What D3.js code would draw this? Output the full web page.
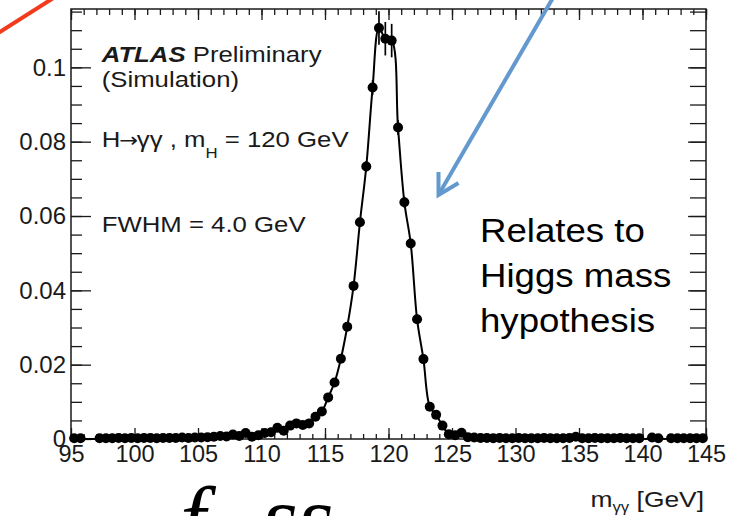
<!DOCTYPE html>
<html>
<head>
<meta charset="utf-8">
<script src="https://cdn.jsdelivr.net/npm/d3@7"></script>
<style>
  body { margin: 0; background: #fff; }
  svg { display: block; font-family: "Liberation Sans", Arial, Helvetica, sans-serif; }
</style>
</head>
<body>
<script>
var width = 737, height = 516;

// m_yy histogram, 0.5 GeV bins from 95 to 145 (null = empty bin)
var binLo = 95, binWidth = 0.5;
var binValues = [
  0.0002, 0.0002, null, null, 0.0002, 0.0002, 0.0002, 0.0003, 0.0002, 0.0003,   // 95 - 100
  0.0002, 0.0003, 0.0003, 0.0002, 0.0003, 0.0003, 0.0003, 0.0004, 0.0003, 0.0004, // 100 - 105
  0.0004, 0.0005, 0.0006, 0.0008, 0.0007, 0.0012, 0.0008, 0.0016, 0.0006, 0.0010, // 105 - 110
  0.0016, 0.0018, 0.0030, 0.0022, 0.0036, 0.0042, 0.0038, 0.0042, 0.0060, 0.0074, // 110 - 115
  0.0112, 0.0152, 0.0216, 0.0302, 0.0412, 0.0583, 0.0733, 0.0946, 0.1106, 0.1077, // 115 - 120
  0.1072, 0.0838, 0.0637, 0.0526, 0.0322, 0.0215, 0.0087, 0.0065, 0.0036, 0.0013, // 120 - 125
  0.0010, 0.0017, 0.0005, 0.0004, 0.0003, 0.0003, 0.0002, 0.0003, 0.0002, 0.0002, // 125 - 130
  0.0003, 0.0002, 0.0002, 0.0002, 0.0003, 0.0002, 0.0002, 0.0002, 0.0003, 0.0006, // 130 - 135
  0.0002, 0.0002, 0.0003, 0.0002, 0.0002, 0.0002, 0.0003, 0.0002, 0.0002, 0.0002, // 135 - 140
  null, 0.0004, 0.0002, null, 0.0002, 0.0002, 0.0002, 0.0002, 0.0002, 0.0002      // 140 - 145
];
// statistical errors that stick out of the markers (bin centre, error)
var binErrors = [
  [118.25, 0.0015], [118.75, 0.002], [119.25, 0.0045], [119.75, 0.0045],
  [120.25, 0.0045], [120.75, 0.002], [121.25, 0.0015]
];

var xDomain = [95, 145];
var yDomain = [0, 0.1157];
var xMajor = d3.range(95, 146, 5);
var xMinor = d3.range(95, 146, 1);
var yMajor = [0, 0.02, 0.04, 0.06, 0.08, 0.1];
var yMinor = d3.range(0, 0.1151, 0.005);

var legendLines = ["(Simulation)", "FWHM = 4.0 GeV"];
var noteLines = ["Relates to", "Higgs mass", "hypothesis"];

var points = binValues.map(function(v, i){
  return {m: binLo + binWidth*(i + 0.5), v: v};
});

var svg = d3.select("body").append("svg")
  .attr("width", width)
  .attr("height", height);

var x = d3.scaleLinear().domain(xDomain).range([71, 706]);
var y = d3.scaleLinear().domain(yDomain).range([439, 9]);

var ink = "#1a1a1a";

// ticks, pointing in from all four sides
function tickSet(axis, transform, size, values){
  var g = svg.append("g")
    .attr("transform", transform)
    .call(axis.tickValues(values).tickSizeInner(size).tickSizeOuter(0).tickFormat(""));
  g.select(".domain").remove();
  g.selectAll("line").attr("stroke", ink).attr("stroke-width", 1.3);
  return g;
}
tickSet(d3.axisBottom(x), "translate(0,439)", -5, xMinor);
tickSet(d3.axisBottom(x), "translate(0,439)", -11, xMajor);
tickSet(d3.axisTop(x), "translate(0,9)", -6, xMinor);
tickSet(d3.axisTop(x), "translate(0,9)", -11, xMajor);
tickSet(d3.axisLeft(y), "translate(71,0)", -11, yMinor);
tickSet(d3.axisLeft(y), "translate(71,0)", -20, yMajor);
tickSet(d3.axisRight(y), "translate(706,0)", -16, yMinor);
tickSet(d3.axisRight(y), "translate(706,0)", -18, yMajor);

// tick labels
var xLab = svg.append("g")
  .attr("transform", "translate(0,439)")
  .call(d3.axisBottom(x).tickValues(xMajor).tickSize(0).tickPadding(6).tickFormat(d3.format("d")));
xLab.select(".domain").remove();
xLab.selectAll("text").attr("font-size", 23.5).attr("font-family", null).attr("fill", ink);

var yLab = svg.append("g")
  .attr("transform", "translate(71,0)")
  .call(d3.axisLeft(y).tickValues(yMajor).tickSize(0).tickPadding(5).tickFormat(d3.format("~g")));
yLab.select(".domain").remove();
yLab.selectAll("text").attr("font-size", 24).attr("font-family", null).attr("fill", ink);

// frame
svg.append("rect")
  .attr("x", x(95)).attr("y", y(yDomain[1]))
  .attr("width", x(145) - x(95)).attr("height", y(0) - y(yDomain[1]))
  .attr("fill", "none").attr("stroke", ink).attr("stroke-width", 1.5);

// fitted shape through the bins
var fit = d3.line()
  .x(function(d){ return x(d.m); })
  .y(function(d){ return y(d.v || 0); })
  .curve(d3.curveCatmullRom.alpha(0.5));
svg.append("path")
  .datum(points)
  .attr("d", fit)
  .attr("fill", "none")
  .attr("stroke", "#000")
  .attr("stroke-width", 2);

// error bars
svg.append("g").selectAll("line")
  .data(binErrors)
  .enter().append("line")
  .attr("x1", function(d){ return x(d[0]); })
  .attr("x2", function(d){ return x(d[0]); })
  .attr("y1", function(d){ return y(points[(d[0] - binLo - binWidth/2)/binWidth].v + d[1]); })
  .attr("y2", function(d){ return y(points[(d[0] - binLo - binWidth/2)/binWidth].v - d[1]); })
  .attr("stroke", "#000").attr("stroke-width", 1.7);

// markers
svg.append("g").selectAll("circle")
  .data(points.filter(function(d){ return d.v != null; }))
  .enter().append("circle")
  .attr("cx", function(d){ return x(d.m); })
  .attr("cy", function(d){ return y(d.v); })
  .attr("r", 5)
  .attr("fill", "#000");

// legend block (text slightly stretched like the slide)
var leg = svg.append("g").attr("transform", "translate(101.7,0) scale(1.12,1)").attr("fill", ink).attr("font-size", 23);
var l1 = leg.append("text").attr("y", 61.7);
l1.append("tspan").attr("font-weight", "bold").attr("font-style", "italic").text("ATLAS");
l1.append("tspan").text(" Preliminary");
leg.append("text").attr("y", 87.5).text(legendLines[0]);
var l3 = leg.append("text").attr("y", 146.7);
l3.append("tspan").text("H");
l3.append("tspan").attr("font-family", "'DejaVu Sans', sans-serif").attr("font-size", 20).attr("dx", -1).text("\u2192");
l3.append("tspan").attr("dx", -1).text("\u03b3\u03b3 , m");
l3.append("tspan").attr("font-size", 15).attr("dy", 11).text("H");
l3.append("tspan").attr("dy", -11).text(" = 120 GeV");
leg.append("text").attr("y", 232.3).text(legendLines[1]);

// axis title
var xt = svg.append("g").attr("transform", "translate(704,507) scale(1.2,1)");
var xtText = xt.append("text").attr("text-anchor", "end").attr("font-size", 22).attr("fill", ink);
xtText.append("tspan").text("m");
xtText.append("tspan").attr("font-size", 14).attr("dy", 5).text("\u03b3\u03b3");
xtText.append("tspan").attr("dy", -5).text(" [GeV]");

// annotation
var note = svg.append("g").attr("transform", "translate(480,0) scale(1.11,1)");
note.selectAll("text")
  .data(noteLines)
  .enter().append("text")
  .attr("y", function(d, i){ return 242 + i*45; })
  .attr("font-size", 33)
  .attr("fill", "#000")
  .text(function(d){ return d; });

// slide decorations: red stroke and blue arrow
svg.append("line")
  .attr("x1", -5).attr("y1", 35).attr("x2", 55).attr("y2", -3)
  .attr("stroke", "#f23b1d").attr("stroke-width", 4);

var blue = "#6399cf";
svg.append("line")
  .attr("x1", 554).attr("y1", -4).attr("x2", 439).attr("y2", 194)
  .attr("stroke", blue).attr("stroke-width", 4);
svg.append("path")
  .attr("d", "M438.5,172 L438.5,195 L458.5,183")
  .attr("fill", "none").attr("stroke", blue).attr("stroke-width", 4)
  .attr("stroke-linejoin", "miter");

// formula cut off at the bottom edge of the slide
svg.append("text")
  .attr("x", 180).attr("y", 550)
  .attr("font-family", "'Liberation Serif', serif")
  .attr("font-style", "italic")
  .attr("font-size", 92)
  .attr("fill", "#000")
  .text("f");
svg.append("text")
  .attr("x", 262).attr("y", 548)
  .attr("font-family", "'Liberation Serif', serif")
  .attr("font-style", "italic")
  .attr("font-size", 92)
  .attr("fill", "#000")
  .text("ss");
</script>
</body>
</html>
